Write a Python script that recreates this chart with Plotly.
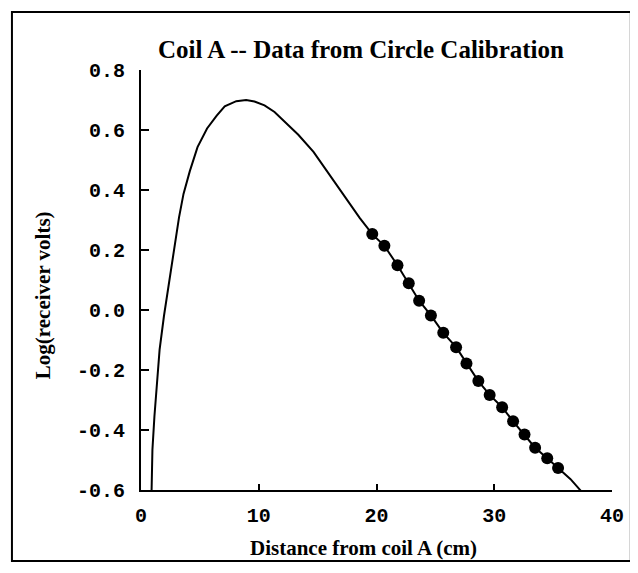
import plotly.graph_objects as go

# Fitted curve
curve_x = [0.90, 0.97, 1.14, 1.36, 1.58, 1.95, 2.24, 2.62, 2.94, 3.23, 3.61, 4.14, 4.80,
           5.61, 6.43, 7.11, 8.09, 8.93, 9.64, 10.49, 11.34, 11.92, 13.36, 14.65, 15.96,
           17.41, 18.57, 19.64, 20.67, 21.78, 22.74, 23.62, 24.62, 25.67, 26.76, 27.64,
           28.65, 29.61, 30.67, 31.60, 32.57, 33.47, 34.50, 35.42, 36.48, 37.34]
curve_y = [-0.600, -0.466, -0.355, -0.243, -0.132, -0.020, 0.058, 0.148, 0.230, 0.309,
           0.387, 0.462, 0.543, 0.605, 0.648, 0.679, 0.696, 0.700, 0.695, 0.682, 0.660,
           0.638, 0.584, 0.527, 0.452, 0.371, 0.307, 0.253, 0.214, 0.149, 0.089, 0.031,
           -0.018, -0.076, -0.124, -0.178, -0.237, -0.283, -0.324, -0.371, -0.415,
           -0.459, -0.494, -0.527, -0.564, -0.602]

# Measured calibration data points
data_x = [19.64, 20.67, 21.78, 22.74, 23.62, 24.62, 25.67, 26.76, 27.64, 28.65,
          29.61, 30.67, 31.60, 32.57, 33.47, 34.50, 35.42]
data_y = [0.253, 0.214, 0.149, 0.089, 0.031, -0.018, -0.076, -0.124, -0.178, -0.237,
          -0.283, -0.324, -0.371, -0.415, -0.459, -0.494, -0.527]

x_ticks = [0, 10, 20, 30, 40]
y_ticks = [0.8, 0.6, 0.4, 0.2, 0.0, -0.2, -0.4, -0.6]
y_tick_text = ["0.8", "0.6", "0.4", "0.2", "0.0", "-0.2", "-0.4", "-0.6"]

title_text = "Coil A -- Data from Circle Calibration"
x_title = "Distance from coil A (cm)"
y_title = "Log(receiver volts)"

fig = go.Figure()
fig.add_trace(go.Scatter(x=curve_x, y=curve_y, mode="lines",
                         line=dict(color="black", width=2),
                         showlegend=False, hoverinfo="skip"))
fig.add_trace(go.Scatter(x=data_x, y=data_y, mode="markers",
                         marker=dict(color="black", size=12),
                         showlegend=False))

tickfont = dict(family="Liberation Mono, Courier New, monospace", size=20, color="black", weight="bold")
serif = "Liberation Serif, Times New Roman, serif"

fig.update_layout(
    width=630, height=565,
    margin=dict(l=133, r=26, t=62, b=83),
    paper_bgcolor="white", plot_bgcolor="white",
    xaxis=dict(range=[0, 40], tickvals=x_ticks, ticks="inside", ticklen=6, tickwidth=1.5,
               tickcolor="black", showline=True, linecolor="black", linewidth=2,
               showgrid=False, zeroline=False, tickfont=tickfont, ticklabelstandoff=6),
    yaxis=dict(range=[-0.6, 0.8], tickvals=y_ticks, ticktext=y_tick_text, ticks="inside",
               ticklen=8, tickwidth=2, tickcolor="black", showline=True, linecolor="black",
               linewidth=2, showgrid=False, zeroline=False, tickfont=tickfont,
               ticklabelstandoff=10),
    annotations=[
        dict(text="<b>" + title_text + "</b>", xref="paper", yref="paper",
             x=0.467, y=1.048, xanchor="center", yanchor="middle", showarrow=False,
             font=dict(family=serif, size=25, color="black")),
        dict(text="<b>" + x_title + "</b>", xref="paper", yref="paper",
             x=0.473, y=-0.138, xanchor="center", yanchor="middle", showarrow=False,
             font=dict(family=serif, size=21, color="black")),
        dict(text="<b>" + y_title + "</b>", xref="paper", yref="paper",
             x=-0.208, y=0.464, xanchor="center", yanchor="middle", showarrow=False,
             textangle=-90,
             font=dict(family=serif, size=21, color="black")),
    ],
    shapes=[
        dict(type="rect", xref="paper", yref="paper", x0=-0.274, x1=1.040, y0=-0.169, y1=1.138,
             line=dict(color="black", width=2), fillcolor="rgba(0,0,0,0)"),
    ],
)

fig.write_html("out.html")
